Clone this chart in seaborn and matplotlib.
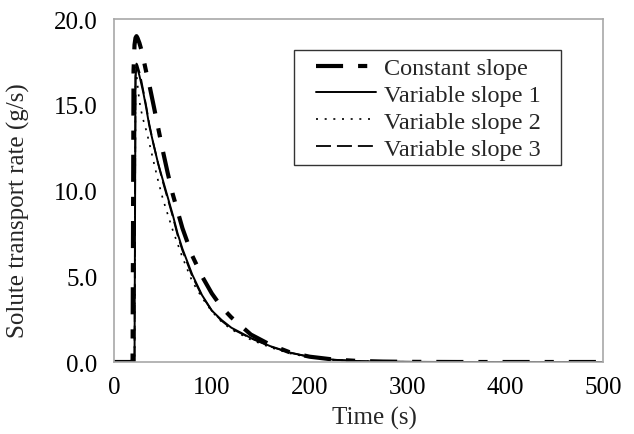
import pandas as pd
import matplotlib
matplotlib.use('Agg')
import matplotlib.pyplot as plt
from matplotlib.patches import Rectangle
import seaborn as sns

# ---- data ----
time_s = [0, 18, 19, 20, 21, 22, 23, 24, 26, 28, 30, 33, 36, 40, 45, 50, 55, 60,
          65, 70, 80, 90, 100, 110, 120, 140, 160, 180, 200, 225, 250, 275, 300,
          350, 400, 450, 500]

constant_slope = [0, 0, 0, 17.0, 18.5, 18.9, 19.0, 18.9, 18.6, 18.2, 17.7, 16.9, 16.2,
                  15.1, 13.7, 12.3, 11.0, 9.8, 8.8, 7.8, 6.2, 5.0, 4.0, 3.2, 2.6,
                  1.6, 1.0, 0.56, 0.31, 0.14, 0.06, 0.025, 0.01, 0, 0, 0, 0]

variable_slope_1 = [0, 0, 0, 0, 0, 16.6, 17.2, 17.1, 16.7, 16.2, 15.7, 14.8, 13.8,
                    12.8, 11.6, 10.6, 9.6, 8.6, 7.5, 6.6, 5.1, 3.9, 3.0, 2.45, 2.0,
                    1.4, 0.92, 0.55, 0.3, 0.13, 0.05, 0.02, 0.01, 0, 0, 0, 0]

variable_slope_2 = [0, 0, 0, 0, 0, 16.4, 16.8, 16.2, 15.2, 14.6, 14.1, 13.5, 12.8,
                    11.8, 10.6, 9.5, 8.6, 7.7, 6.9, 6.1, 4.7, 3.75, 2.95, 2.35, 1.9,
                    1.3, 0.85, 0.5, 0.27, 0.12, 0.05, 0.02, 0.01, 0, 0, 0, 0]

variable_slope_3 = [0, 0, 0, 0, 0, 16.8, 17.4, 17.3, 16.9, 16.4, 15.8, 14.9, 13.9,
                    12.8, 11.6, 10.5, 9.5, 8.5, 7.4, 6.5, 5.0, 3.85, 3.0, 2.4, 1.95,
                    1.38, 0.9, 0.54, 0.3, 0.13, 0.05, 0.02, 0.01, 0, 0, 0, 0]

series_names = ['Constant slope', 'Variable slope 1', 'Variable slope 2', 'Variable slope 3']
x_ticks = [0, 100, 200, 300, 400, 500]
y_ticks = [0, 5, 10, 15, 20]

df = pd.DataFrame({
    'time': time_s * 4,
    'rate': constant_slope + variable_slope_1 + variable_slope_2 + variable_slope_3,
    'series': sum([[n] * len(time_s) for n in series_names], []),
})

# line styles per series
styles = {
    'Constant slope': dict(lw=3.0, ls=(0, (6.5, 3.6, 2.2, 3.6))),
    'Variable slope 1': dict(lw=1.4, ls='-'),
    'Variable slope 2': dict(lw=1.2, ls=(0, (1.2, 4.0))),
    'Variable slope 3': dict(lw=1.3, ls=(0, (8.3, 3.3))),
}

sns.set_style('white')
plt.rcParams['font.family'] = ['Liberation Serif', 'DejaVu Serif']

fig = plt.figure(figsize=(6.34, 4.35), dpi=100)
ax = fig.add_axes([0.1798, 0.1655, 0.7713, 0.7885])

for name in series_names:
    sub = df[df['series'] == name]
    sns.lineplot(data=sub, x='time', y='rate', ax=ax, color='black',
                 linewidth=styles[name]['lw'], linestyle=styles[name]['ls'],
                 label=name, estimator=None, sort=False)

ax.set_xlim(0, 500)
ax.set_ylim(0, 20)
ax.set_xticks(x_ticks)
ax.set_yticks(y_ticks)
ax.set_yticklabels([f'{v:.1f}' for v in y_ticks])
ax.tick_params(axis='both', direction='out', length=5, width=1, color='#a8a8a8',
               labelsize=18, labelcolor='black')
ax.tick_params(axis='y', pad=7)
ax.tick_params(axis='x', pad=5)
for sp in ax.spines.values():
    sp.set_color('#a8a8a8')
    sp.set_linewidth(1.2)

ax.set_xlabel('Time (s)', fontsize=18)
ax.set_ylabel('Solute transport rate (g/s)', fontsize=18)
ax.xaxis.set_label_coords(0.532, -0.128)
ax.yaxis.set_label_coords(-0.172, 0.443)

# legend box drawn separately so the side padding matches
ax.add_patch(Rectangle((0.369, 0.573), 0.546, 0.336, transform=ax.transAxes,
                       facecolor='white', edgecolor='#333333', linewidth=1.0,
                       zorder=4))
leg = ax.legend(loc='upper left', bbox_to_anchor=(0.414, 0.889), fontsize=17.5,
                frameon=False, handlelength=2.47, handletextpad=0.29,
                borderpad=0, borderaxespad=0, labelspacing=0.2)
leg.set_zorder(5)

fig.savefig('out.png', dpi=100)
